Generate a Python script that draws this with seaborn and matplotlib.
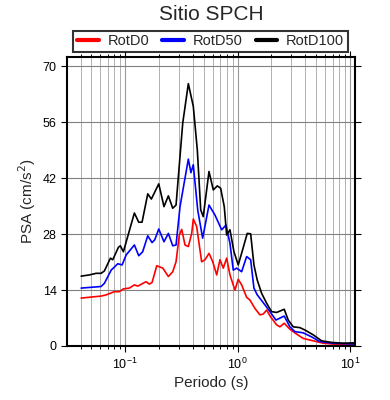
import numpy as np
import pandas as pd
import seaborn as sns
import matplotlib
matplotlib.use("Agg")
import matplotlib.pyplot as plt
from matplotlib.ticker import LogLocator, FixedLocator

# periods (s) and PSA (cm/s2)
t_d0 = [0.0405, 0.0609, 0.0676, 0.0798, 0.0884, 0.0962, 0.1087, 0.1205, 0.1292,
        0.1529, 0.1638, 0.1731, 0.1906, 0.2158, 0.2417, 0.2644, 0.283, 0.3026,
        0.318, 0.340, 0.364, 0.390, 0.403, 0.432, 0.478, 0.512, 0.556, 0.600,
        0.651, 0.696, 0.745, 0.798, 0.854, 0.946, 1.012, 1.085, 1.202, 1.286,
        1.425, 1.578, 1.689, 1.811, 1.964, 2.222, 2.376, 2.596, 2.917, 3.34,
        3.83, 4.70, 5.77, 7.58, 11.03]
psa_d0 = [12.0, 12.5, 12.8, 13.6, 13.6, 14.3, 14.5, 15.3, 15.0,
          16.1, 15.5, 15.9, 20.1, 19.5, 17.4, 18.6, 21.1, 27.8,
          29.2, 25.3, 24.9, 28.2, 31.8, 29.9, 21.1, 21.6, 23.2, 21.1,
          17.8, 21.6, 19.5, 22.0, 17.8, 14.0, 16.7, 15.3, 12.2, 11.5,
          9.4, 7.8, 8.0, 9.0, 7.3, 5.3, 4.8, 5.7, 4.2, 3.0,
          1.9, 1.3, 0.7, 0.4, 0.3]

t_d50 = [0.0405, 0.0609, 0.0652, 0.0749, 0.0858, 0.0937, 0.1018, 0.1205, 0.1318,
         0.1428, 0.1585, 0.1731, 0.1829, 0.1986, 0.221, 0.2417, 0.2644, 0.283,
         0.307, 0.364, 0.384, 0.403, 0.441, 0.488, 0.556, 0.628, 0.721, 0.787,
         0.854, 0.914, 0.980, 1.085, 1.202, 1.305, 1.396, 1.494, 1.749, 1.937,
         2.190, 2.596, 2.917, 3.231, 3.832, 4.54, 5.39, 7.02, 11.03]
psa_d50 = [14.5, 14.9, 15.7, 19.0, 20.6, 20.3, 22.8, 25.3, 22.6,
           23.6, 27.6, 25.9, 26.6, 29.3, 26.1, 28.2, 25.1, 25.3,
           34.9, 46.8, 43.4, 45.4, 34.1, 27.0, 35.3, 32.8, 29.1, 30.3,
           25.7, 19.0, 19.5, 18.6, 22.4, 21.6, 14.5, 12.8, 10.3, 8.6,
           6.5, 7.5, 4.8, 3.6, 3.3, 2.3, 1.1, 0.7, 0.5]

t_d100 = [0.0405, 0.0480, 0.0550, 0.0609, 0.0652, 0.0738, 0.0774, 0.0868, 0.0904,
          0.0962, 0.1205, 0.1318, 0.141, 0.1585, 0.1706, 0.1986, 0.221, 0.2417,
          0.2644, 0.283, 0.3245, 0.364, 0.403, 0.4375, 0.469, 0.494, 0.556, 0.607,
          0.659, 0.706, 0.760, 0.798, 0.854, 0.927, 1.012, 1.107, 1.217, 1.305,
          1.396, 1.494, 1.634, 1.811, 2.005, 2.222, 2.596, 2.818, 3.121, 3.578,
          3.965, 4.70, 5.58, 6.85, 8.68, 11.03]
psa_d100 = [17.5, 17.8, 18.2, 18.2, 18.8, 22.0, 21.6, 24.7, 25.1,
            23.6, 33.3, 31.0, 31.0, 38.1, 36.8, 40.6, 34.9, 37.6,
            34.5, 35.3, 55.8, 65.7, 60.0, 49.1, 34.1, 32.4, 43.7, 39.1,
            40.1, 39.5, 34.9, 27.8, 29.1, 23.6, 20.3, 24.1, 28.2, 28.1,
            20.3, 16.5, 13.2, 10.7, 8.6, 8.4, 9.2, 6.5, 4.8, 4.6,
            4.0, 2.8, 1.3, 0.9, 0.7, 0.8]

series = ["RotD0", "RotD50", "RotD100"]
colors = {"RotD0": "#ff0000", "RotD50": "#0000ff", "RotD100": "#000000"}

df = pd.concat([
    pd.DataFrame({"T": t_d0, "PSA": psa_d0, "comp": "RotD0"}),
    pd.DataFrame({"T": t_d50, "PSA": psa_d50, "comp": "RotD50"}),
    pd.DataFrame({"T": t_d100, "PSA": psa_d100, "comp": "RotD100"}),
])

sns.set_style("ticks")
plt.rcParams["font.family"] = ["Liberation Sans", "DejaVu Sans"]

fig = plt.figure(figsize=(3.9, 4.0), dpi=100)
ax = fig.add_axes([67 / 390, 1 - 346 / 400, 288 / 390, 288.7 / 400])

sns.lineplot(data=df, x="T", y="PSA", hue="comp", hue_order=series,
             palette=colors, sort=False, estimator=None, lw=1.2, ax=ax)

ax.set_xscale("log")
ax.set_xlim(0.0303, 11.07)
ax.set_ylim(0, 72.3)
ax.yaxis.set_major_locator(FixedLocator([0, 14, 28, 42, 56, 70]))
ax.xaxis.set_minor_locator(LogLocator(base=10, subs=np.arange(2, 10)))

ax.grid(which="major", axis="x", color="#999999", lw=0.8)
ax.grid(which="minor", axis="x", color="#b0b0b0", lw=0.7)
ax.grid(which="major", axis="y", color="#808080", lw=0.8)
ax.set_axisbelow(True)

for s in ax.spines.values():
    s.set_linewidth(1.5)
    s.set_color("black")

ax.tick_params(which="both", direction="out", top=True, right=True,
               labeltop=False, labelright=False, colors="black", labelsize=9)
ax.tick_params(which="major", length=4, width=0.8)
ax.tick_params(which="minor", length=2.5, width=0.7)

ax.set_xlabel("Periodo (s)", fontsize=11, labelpad=3)
ax.set_ylabel("PSA (cm/s$^2$)", fontsize=11, labelpad=3)

handles, labels = ax.get_legend_handles_labels()
leg = ax.legend(handles, labels, ncol=3, mode="expand", loc="lower left",
                bbox_to_anchor=(73 / 390, 1 - 52 / 400, 275 / 390, 24 / 400),
                bbox_transform=fig.transFigure, borderaxespad=0,
                fontsize=10.5, frameon=True, fancybox=False, handlelength=1.5,
                handletextpad=0.6, borderpad=0.25)
leg.get_frame().set_edgecolor("black")
leg.get_frame().set_linewidth(1.5)
for h in leg.get_lines():
    h.set_linewidth(3)

fig.text(211 / 390, 1 - 15 / 400, "Sitio SPCH", ha="center", va="center",
         fontsize=15)

fig.savefig("out.png", dpi=100)
